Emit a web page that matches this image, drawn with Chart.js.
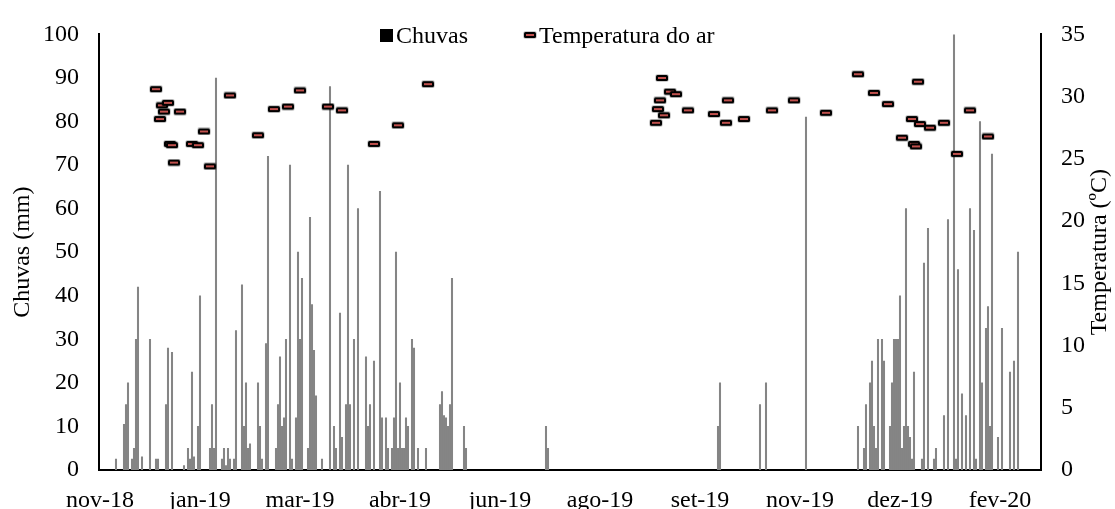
<!DOCTYPE html>
<html>
<head>
<meta charset="utf-8">
<script src="https://cdn.jsdelivr.net/npm/chart.js@4"></script>
<style>
    body { margin: 0; background: #fff; }
    canvas { display: block; }
</style>
</head>
<body>
<canvas id="chart" width="1115" height="509"></canvas>
<script>
// ---------- dados ----------
const xTickLabels = ['nov-18', 'jan-19', 'mar-19', 'abr-19', 'jun-19', 'ago-19', 'set-19', 'nov-19', 'dez-19', 'fev-20'];
const tickEvery = 50;

// posição (índice do registro) e chuva em mm
const rainPos = [8, 12, 13, 14, 16, 17, 18, 19, 21, 25, 28, 29, 33, 34, 36, 42, 44, 45, 46, 47, 49, 50,
    55, 56, 57, 58, 61, 62, 63, 64, 65, 67, 68, 71, 72, 73, 74, 75, 79, 80, 81, 83, 84, 88, 89, 90, 91,
    92, 93, 95, 96, 98, 99, 100, 101, 104, 105, 106, 107, 108, 111, 115, 117, 118, 120, 121, 123, 124,
    125, 127, 129, 133, 134, 135, 137, 140, 141, 143, 144, 146, 147, 148, 149, 150, 151, 152, 153, 154,
    156, 157, 159, 163, 170, 171, 172, 173, 174, 175, 176, 182, 183, 223, 224, 309, 310, 330, 333, 353,
    379, 382, 383, 385, 386, 387, 388, 389, 391, 392, 395, 396, 397, 398, 399, 400, 401, 402, 403, 404,
    405, 406, 407, 411, 412, 414, 417, 418, 422, 424, 427, 428, 429, 431, 433, 435, 437, 438, 440, 441,
    443, 444, 445, 446, 449, 451, 455, 457, 459];
const rainMm = [2.5, 10.5, 15, 20, 2.5, 5, 30, 42, 3, 30, 2.5, 2.5, 15, 28, 27, 1, 5, 2.5, 22.5, 3, 10, 40,
    5, 15, 5, 90, 2.5, 5, 1, 5, 2.5, 2.5, 32, 42.5, 10, 20, 5, 6, 20, 10, 2.5, 29, 72, 5, 15, 26, 10,
    12, 30, 70, 2.5, 12, 50, 30, 44, 5, 58, 38, 27.5, 17, 2.5, 88, 10, 5, 36, 7.5, 15, 70,
    15, 30, 60, 26, 10, 15, 25, 64, 12, 12, 5, 5, 12, 50, 5, 20, 5, 5, 12, 10,
    30, 28, 5, 5, 15, 18, 12.5, 12, 10, 15, 44, 10, 5, 10, 5, 10, 20, 15, 20, 81,
    10, 5, 15, 20, 25, 10, 5, 30, 30, 25, 10, 20, 30, 30, 30, 40, 5, 10, 60, 10,
    7.5, 2.5, 22.5, 2.5, 47.5, 55.5, 2.5, 5, 12.5, 57.5, 100, 2.5, 46, 17.5, 12.5, 60, 55, 2.5, 80, 20,
    32.5, 37.5, 10, 72.5, 7.5, 32.5, 22.5, 25, 50];

// posição e temperatura do ar em ºC
const tempPos = [28, 30, 31, 32, 34, 35, 36, 37, 40, 46, 49, 52, 55, 65, 79, 87, 94, 100, 114, 121, 137,
    149, 164, 278, 279, 280, 281, 282, 285, 288, 294, 307, 313, 314, 322, 336, 347, 363, 379, 387,
    394, 401, 406, 407, 408, 409, 410, 415, 422, 428.5, 435, 444];
const tempC = [30.6, 28.2, 29.3, 28.8, 29.5, 26.2, 26.1, 24.7, 28.8, 26.2, 26.1, 27.2, 24.4, 30.1, 26.9,
    29.0, 29.2, 30.5, 29.2, 28.9, 26.2, 27.7, 31.0, 27.9, 29.0, 29.7, 31.5, 28.5, 30.4, 30.2, 28.9,
    28.6, 27.9, 29.7, 28.2, 28.9, 29.7, 28.7, 31.8, 30.3, 29.4, 26.7, 28.2, 26.2, 26.0, 31.2, 27.8,
    27.5, 27.9, 25.4, 28.9, 26.8];

const FONT = "'Liberation Serif', 'Times New Roman', serif";
const textFont = { family: FONT, size: 24 };

// ---------- marcador (traço vermelho com borda preta) ----------
function makeMarker() {
    const c = document.createElement('canvas');
    c.width = 14;
    c.height = 8;
    const g = c.getContext('2d');
    g.fillStyle = 'rgba(0,0,0,0.2)';
    g.beginPath();
    g.roundRect(0, 0, 14, 8, 3);
    g.fill();
    g.fillStyle = '#000';
    g.beginPath();
    g.roundRect(1, 1, 12, 6, 1.5);
    g.fill();
    g.fillStyle = '#c0504d';
    g.fillRect(3, 3, 8, 2);
    return c;
}
const marker = makeMarker();

// ---------- legenda e título do eixo direito ----------
const extras = {
    id: 'extras',
    afterDraw(chart) {
        const c = chart.ctx;
        const area = chart.chartArea;
        c.save();
        c.font = `24px ${FONT}`;
        c.fillStyle = '#000';
        c.textBaseline = 'alphabetic';
        c.textAlign = 'left';

        const ds = chart.data.datasets;
        c.fillRect(380, 29, 13, 13);
        c.fillText(ds[0].label, 396, 43);
        c.drawImage(marker, 523, 31);
        c.fillText(ds[1].label, 539, 43);

        c.translate(1100, (area.top + area.bottom) / 2);
        c.rotate(-Math.PI / 2);
        c.textAlign = 'center';
        c.textBaseline = 'middle';
        c.fillText('Temperatura (ºC)', 0, 0);
        c.restore();
    }
};

// ---------- gráfico ----------
const ctx = document.getElementById('chart');

new Chart(ctx, {
    data: {
        datasets: [
            {
                type: 'bar',
                label: 'Chuvas',
                data: rainPos.map((x, i) => ({ x, y: rainMm[i] })),
                yAxisID: 'y',
                backgroundColor: '#858585',
                barThickness: 1.4,
                order: 2
            },
            {
                type: 'scatter',
                label: 'Temperatura do ar',
                data: tempPos.map((x, i) => ({ x, y: tempC[i] })),
                yAxisID: 'y1',
                pointStyle: marker,
                order: 1
            }
        ]
    },
    options: {
        responsive: false,
        animation: false,
        layout: { padding: { top: 27 } },
        plugins: {
            legend: { display: false },
            tooltip: { enabled: false }
        },
        scales: {
            x: {
                type: 'linear',
                min: -0.5,
                max: 470.5,
                offset: false,
                grid: { display: false, drawTicks: false },
                border: { color: '#000', width: 2 },
                afterBuildTicks: (s) => {
                    s.ticks = xTickLabels.map((_, i) => ({ value: i * tickEvery }));
                },
                afterFit: (s) => { s.height = 39; },
                ticks: {
                    autoSkip: false,
                    maxRotation: 0,
                    padding: 16,
                    color: '#000',
                    font: textFont,
                    callback: (v, i) => xTickLabels[i]
                }
            },
            y: {
                position: 'left',
                min: 0,
                max: 100,
                grid: { display: false, drawTicks: false },
                border: { color: '#000', width: 2 },
                afterFit: (s) => { s.width = 99; },
                ticks: { stepSize: 10, padding: 20, color: '#000', font: textFont },
                title: {
                    display: true,
                    text: 'Chuvas (mm)',
                    color: '#000',
                    font: textFont,
                    padding: { top: 8, bottom: 0 }
                }
            },
            y1: {
                position: 'right',
                min: 0,
                max: 35,
                grid: { display: false, drawTicks: false },
                border: { color: '#000', width: 2 },
                afterFit: (s) => { s.width = 74; },
                ticks: { stepSize: 5, padding: 20, color: '#000', font: textFont }
            }
        }
    },
    plugins: [extras]
});
</script>
</body>
</html>
